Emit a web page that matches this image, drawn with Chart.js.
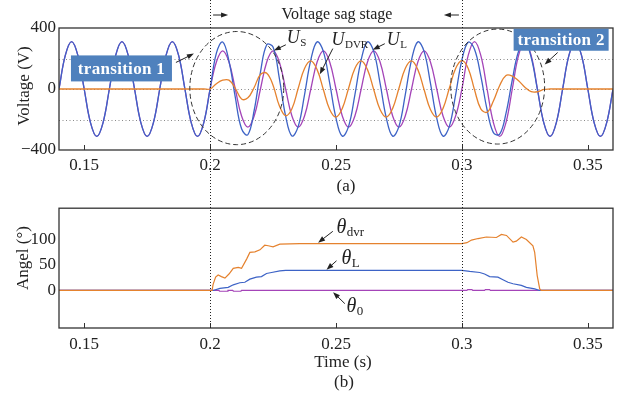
<!DOCTYPE html>
<html>
<head>
<meta charset="utf-8">
<script src="https://cdn.jsdelivr.net/npm/chart.js@4.4.1/dist/chart.umd.min.js"></script>
<style>
  html, body { margin: 0; padding: 0; background: #fff; }
  #wrap { position: relative; width: 622px; height: 399px; overflow: hidden; }
  canvas { position: absolute; left: 0; }
  #top { top: 0; }
  #bot { top: 195px; }
</style>
</head>
<body>
<div id="wrap">
  <canvas id="top" width="622" height="195"></canvas>
  <canvas id="bot" width="622" height="204"></canvas>
</div>
<script>
// ---- axis ticks ----
const xTicks = [0.15, 0.2, 0.25, 0.3, 0.35];
const xTickLabels = ["0.15", "0.2", "0.25", "0.3", "0.35"];
const vTicks = [-400, 0, 400];
const vTickLabels = ["\u2212400", "0", "400"];
const vGrid = [-200, 0, 200];
const aTicks = [0, 50, 100];
const aTickLabels = ["0", "50", "100"];
const stageBounds = [0.2, 0.3];

// ---- (a) voltages, sampled every 2.5 ms ----
const tTop = [0.14, 0.1425, 0.145, 0.1475, 0.15, 0.1525, 0.155, 0.1575, 0.16, 0.1625, 0.165, 0.1675,
  0.17, 0.1725, 0.175, 0.1775, 0.18, 0.1825, 0.185, 0.1875, 0.19, 0.1925, 0.195, 0.1975,
  0.2, 0.2025, 0.205, 0.2075, 0.21, 0.2125, 0.215, 0.2175, 0.22, 0.2225, 0.225, 0.2275,
  0.23, 0.2325, 0.235, 0.2375, 0.24, 0.2425, 0.245, 0.2475, 0.25, 0.2525, 0.255, 0.2575,
  0.26, 0.2625, 0.265, 0.2675, 0.27, 0.2725, 0.275, 0.2775, 0.28, 0.2825, 0.285, 0.2875,
  0.29, 0.2925, 0.295, 0.2975, 0.3, 0.3025, 0.305, 0.3075, 0.31, 0.3125, 0.315, 0.3175,
  0.32, 0.3225, 0.325, 0.3275, 0.33, 0.3325, 0.335, 0.3375, 0.34, 0.3425, 0.345, 0.3475,
  0.35, 0.3525, 0.355, 0.3575, 0.36];

const uS = [0, 220, 311, 220, 0, -220, -311, -220, 0, 220, 311, 220, 0, -220, -311, -220,
  0, 220, 311, 220, 0, -220, -311, -220,
  0, 177, 250, 177, 0, -177, -250, -177, 0, 177, 250, 177, 0, -177, -250, -177,
  0, 177, 250, 177, 0, -177, -250, -177, 0, 177, 250, 177, 0, -177, -250, -177,
  0, 177, 250, 177, 0, -177, -250, -177,
  0, 220, 311, 220, 0, -220, -311, -220, 0, 220, 311, 220, 0, -220, -311, -220,
  0, 220, 311, 220, 0, -220, -311, -220, 0];

const uL = [0, 220, 311, 220, 0, -220, -311, -220, 0, 220, 311, 220, 0, -220, -311, -220,
  0, 220, 311, 220, 0, -220, -311, -220,
  0, 235, 308, 183, -54, -261, -300, -141, 111, 290, 275, 70, -178, -308, -245, -38,
  191, 309, 245, 38, -191, -309, -245, -38, 191, 309, 245, 38, -191, -309, -245, -38,
  191, 309, 245, 38, -191, -309, -245, -38,
  191, 307, 261, 86, -136, -286, -296, -160, 59, 248, 310, 208, -5, -220, -311, -220,
  0, 220, 311, 220, 0, -220, -311, -220, 0];

const uDVR = [0, 0, 0, 0, 0, 0, 0, 0, 0, 0, 0, 0, 0, 0, 0, 0, 0, 0, 0, 0, 0, 0, 0, 0,
  0, 35, 58, 58, 5, -65, -58, 10, 95, 104, 25, -110, -175, -130, 5, 134,
  184, 127, -5, -134, -184, -127, 5, 134, 184, 127, -5, -134, -184, -127, 5, 134,
  184, 127, -5, -134, -184, -127, 5, 134,
  186, 135, -5, -130, -152, -79, 23, 89, 85, 54, 12, -17, -18, -3,
  0, 0, 0, 0, 0, 0, 0, 0, 0, 0, 0];

// ---- (b) angles ----
const tDvr = [0.14, 0.2008, 0.2012, 0.2022, 0.2032, 0.2045, 0.2059, 0.2075, 0.2092, 0.2112, 0.2125,
  0.2145, 0.2158, 0.2178, 0.2198, 0.2217, 0.2231, 0.225, 0.2277, 0.2356, 0.3, 0.302, 0.3038,
  0.3064, 0.3097, 0.3137, 0.3157, 0.3177, 0.3203, 0.3216, 0.3236, 0.3256, 0.3282, 0.3289,
  0.3299, 0.3309, 0.3315, 0.36];
const thDvr = [0, 0, 12, 26, 30, 27, 24, 32, 43, 45, 43, 61, 74, 75, 79, 88, 87, 85, 90, 91, 91,
  93, 98, 101, 104, 103, 109, 107, 94, 96, 104, 99, 87, 74, 29, 3, 0, 0];

const tL = [0.14, 0.2012, 0.2039, 0.2072, 0.2092, 0.2118, 0.2138, 0.2158, 0.2184, 0.2204, 0.2224,
  0.2244, 0.2277, 0.23, 0.3, 0.3031, 0.3071, 0.309, 0.311, 0.3143, 0.3163, 0.3183, 0.3203,
  0.3236, 0.3256, 0.3289, 0.3309, 0.36];
const thL = [0, 0, 4, 6, 11, 15, 16, 22, 26, 27, 33, 35, 38, 39, 39, 37, 35, 32, 27, 26, 21, 16,
  13, 10, 6, 3, 0, 0];

const t0 = [0.14, 0.2035, 0.2038, 0.2068, 0.2071, 0.209, 0.2093, 0.2122, 0.2125, 0.302, 0.3023,
  0.304, 0.3043, 0.309, 0.3093, 0.311, 0.3113, 0.36];
const th0 = [0, 0, -1.5, -1.5, 0, 0, -1.5, -1.5, 0, 0, 1.5, 1.5, 0, 0, 1.5, 1.5, 0, 0];

const SERIF = '"Liberation Serif", "DejaVu Serif", serif';
const BLUE = "#3d63c6", PURPLE = "#a444b8", ORANGE = "#e5822e", INK = "#222";

const pts = (ts, vs) => vs.map((v, i) => ({ x: ts[i], y: v }));

// ---- drawing helpers ----
function arrow(ctx, x1, y1, x2, y2) {
  const a = Math.atan2(y2 - y1, x2 - x1), len = 7, wid = 2.6;
  ctx.beginPath();
  ctx.moveTo(x1, y1);
  ctx.lineTo(x2 - Math.cos(a) * len * 0.7, y2 - Math.sin(a) * len * 0.7);
  ctx.stroke();
  ctx.beginPath();
  ctx.moveTo(x2, y2);
  ctx.lineTo(x2 - len * Math.cos(a) + wid * Math.sin(a), y2 - len * Math.sin(a) - wid * Math.cos(a));
  ctx.lineTo(x2 - len * Math.cos(a) - wid * Math.sin(a), y2 - len * Math.sin(a) + wid * Math.cos(a));
  ctx.closePath();
  ctx.fill();
}

function subLabel(ctx, x, y, main, sub, size, subSize) {
  ctx.textAlign = "left";
  ctx.textBaseline = "alphabetic";
  ctx.font = `italic ${size}px ${SERIF}`;
  ctx.fillText(main, x, y);
  const w = ctx.measureText(main).width;
  ctx.font = `${subSize}px ${SERIF}`;
  ctx.fillText(sub, x + w + 0.5, y + 3);
}

function frame(ctx, a) {
  ctx.setLineDash([]);
  ctx.strokeStyle = "#333";
  ctx.lineWidth = 1.3;
  ctx.strokeRect(a.left, a.top, a.right - a.left, a.bottom - a.top);
}

function insideTicks(ctx, a, xs) {
  ctx.setLineDash([]);
  ctx.strokeStyle = "#333";
  ctx.lineWidth = 1;
  xs.forEach(px => {
    const xx = Math.round(px) + 0.5;
    ctx.beginPath(); ctx.moveTo(xx, a.bottom); ctx.lineTo(xx, a.bottom - 5); ctx.stroke();
  });
}

function stageLines(chart, yEnd) {
  const { ctx, scales: { x } } = chart;
  ctx.setLineDash([1, 2]);
  ctx.strokeStyle = INK;
  ctx.lineWidth = 1;
  stageBounds.forEach(t => {
    const xx = Math.round(x.getPixelForValue(t)) + 0.5;
    ctx.beginPath(); ctx.moveTo(xx, 0); ctx.lineTo(xx, yEnd); ctx.stroke();
  });
  ctx.setLineDash([]);
}

function vTitle(ctx, text, cx, cy) {
  ctx.save();
  ctx.translate(cx, cy);
  ctx.rotate(-Math.PI / 2);
  ctx.font = `17px ${SERIF}`;
  ctx.fillStyle = INK;
  ctx.textAlign = "center";
  ctx.textBaseline = "middle";
  ctx.fillText(text, 0, 0);
  ctx.restore();
}

// ---- annotation placements (data coordinates) ----
const topLabels = [
  { sub: "S",   t: 0.2304, v: 303, from: [0.23008, 290], to: [0.22532, 252] },
  { sub: "DVR", t: 0.2482, v: 290, from: [0.24873, 265], to: [0.24357, 97] },
  { sub: "L",   t: 0.2702, v: 290, from: [0.26937, 297], to: [0.2646, 258] }
];
const transitions = [
  { text: "transition 1", t: 0.1648, v: 135, w: 101, h: 26, from: [0.18643, 174], to: [0.19357, 232] },
  { text: "transition 2", t: 0.3394, v: 323, w: 95, h: 22, from: [0.33802, 239], to: [0.33286, 161] }
];
const rings = [
  { t: 0.2106, v: 6, dt: 0.01865, dv: 371 },
  { t: 0.3142, v: 16, dt: 0.01865, dv: 377 }
];
const botLabels = [
  { sub: "dvr", t: 0.2502, v: 111.5, from: [0.24873, 115], to: [0.2429, 93] },
  { sub: "L",   t: 0.25218, v: 52, from: [0.2502, 57.7], to: [0.24623, 40.4] },
  { sub: "0",   t: 0.25417, v: -42.3, from: [0.2535, -25.6], to: [0.24885, -3.3] }
];

const topDecor = {
  id: "topDecor",
  beforeDatasetsDraw(chart) {
    const { ctx, chartArea: a, scales: { y } } = chart;
    ctx.save();
    ctx.strokeStyle = "#8a8a8a";
    ctx.lineWidth = 1;
    ctx.setLineDash([1, 2.5]);
    vGrid.forEach(v => {
      const yy = Math.round(y.getPixelForValue(v)) + 0.5;
      ctx.beginPath(); ctx.moveTo(a.left, yy); ctx.lineTo(a.right, yy); ctx.stroke();
    });
    ctx.restore();
  },
  afterDraw(chart) {
    const { ctx, chartArea: a, scales: { x, y } } = chart;
    const X = t => x.getPixelForValue(t), Y = v => y.getPixelForValue(v);
    ctx.save();
    frame(ctx, a);
    insideTicks(ctx, a, xTicks.map(X));
    stageLines(chart, chart.height);

    ctx.fillStyle = INK; ctx.strokeStyle = INK; ctx.lineWidth = 1;
    const x0 = X(stageBounds[0]), x1 = X(stageBounds[1]);
    ctx.font = `16px ${SERIF}`;
    ctx.textAlign = "center"; ctx.textBaseline = "middle";
    ctx.fillText("Voltage sag stage", (x0 + x1) / 2 + 1, 15);
    arrow(ctx, x0 + 3, 15, x0 + 18, 15);
    arrow(ctx, x1 - 3, 15, x1 - 18, 15);

    ctx.strokeStyle = "#333";
    ctx.setLineDash([5, 3]);
    rings.forEach(r => {
      ctx.beginPath();
      ctx.ellipse(X(r.t), Y(r.v), X(r.t + r.dt) - X(r.t), Y(r.v) - Y(r.v + r.dv), 0, 0, Math.PI * 2);
      ctx.stroke();
    });
    ctx.setLineDash([]);

    ctx.strokeStyle = INK;
    topLabels.forEach(l => {
      subLabel(ctx, X(l.t), Y(l.v), "U", l.sub, 18, 11);
      arrow(ctx, X(l.from[0]), Y(l.from[1]), X(l.to[0]), Y(l.to[1]));
    });

    transitions.forEach(b => {
      const cx = X(b.t), cy = Y(b.v);
      ctx.fillStyle = "#4f81bd";
      ctx.fillRect(cx - b.w / 2, cy - b.h / 2, b.w, b.h);
      ctx.fillStyle = "#fff";
      ctx.font = `bold 17px ${SERIF}`;
      ctx.letterSpacing = "0.3px";
      ctx.textAlign = "center"; ctx.textBaseline = "middle";
      ctx.fillText(b.text, cx, cy + 1);
      ctx.letterSpacing = "0px";
      ctx.fillStyle = INK;
      arrow(ctx, X(b.from[0]), Y(b.from[1]), X(b.to[0]), Y(b.to[1]));
    });

    vTitle(ctx, "Voltage (V)", 25, 86);
    ctx.font = `17px ${SERIF}`;
    ctx.fillStyle = INK;
    ctx.textAlign = "center"; ctx.textBaseline = "middle";
    ctx.fillText("(a)", (a.left + a.right) / 2 + 10, 187);
    ctx.restore();
  }
};

const botDecor = {
  id: "botDecor",
  afterDraw(chart) {
    const { ctx, chartArea: a, scales: { x, y } } = chart;
    const X = t => x.getPixelForValue(t), Y = v => y.getPixelForValue(v);
    ctx.save();
    frame(ctx, a);
    insideTicks(ctx, a, xTicks.map(X));
    stageLines(chart, a.bottom);

    ctx.fillStyle = INK; ctx.strokeStyle = INK; ctx.lineWidth = 1;
    botLabels.forEach(l => {
      subLabel(ctx, X(l.t), Y(l.v), "\u03b8", l.sub, 20, 13);
      arrow(ctx, X(l.from[0]), Y(l.from[1]), X(l.to[0]), Y(l.to[1]));
    });

    vTitle(ctx, "Angel (\u00b0)", 24, 63);
    ctx.font = `17px ${SERIF}`;
    ctx.fillStyle = INK;
    ctx.textAlign = "center"; ctx.textBaseline = "middle";
    ctx.fillText("Time (s)", (a.left + a.right) / 2 + 7, 168);
    ctx.fillText("(b)", (a.left + a.right) / 2 + 8, 188);
    ctx.restore();
  }
};

function xScale(height, pad) {
  return {
    type: "linear", min: 0.14, max: 0.36,
    grid: { display: false, drawTicks: false }, border: { display: false },
    afterBuildTicks: s => { s.ticks = xTicks.map(v => ({ value: v })); },
    afterFit: s => { s.height = height; },
    ticks: {
      autoSkip: false, maxRotation: 0, padding: pad, color: INK,
      font: { family: SERIF, size: 17 },
      callback: (v, i) => xTickLabels[i]
    }
  };
}

function yScale(min, max, ticks, labels) {
  return {
    min, max,
    grid: { display: false, drawTicks: false }, border: { display: false },
    afterBuildTicks: s => { s.ticks = ticks.map(v => ({ value: v })); },
    afterFit: s => { s.width = 59; },
    ticks: {
      autoSkip: false, padding: 3, color: INK,
      font: { family: SERIF, size: 17 },
      callback: (v, i) => labels[i]
    }
  };
}

const common = {
  responsive: false, animation: false, devicePixelRatio: 1,
  plugins: { legend: { display: false }, tooltip: { enabled: false } },
  elements: { point: { radius: 0 } }
};

// Chart.js paints dataset 0 last, so list the top-most line first.
new Chart(document.getElementById("top"), {
  type: "line",
  data: {
    datasets: [
      { data: pts(tTop, uDVR), borderColor: ORANGE, borderWidth: 1.3, tension: 0.4 },
      { data: pts(tTop, uL),   borderColor: BLUE,   borderWidth: 1.3, tension: 0.4 },
      { data: pts(tTop, uS),   borderColor: PURPLE, borderWidth: 1.3, tension: 0.4 }
    ]
  },
  options: {
    ...common,
    layout: { padding: { top: 28, right: 9, left: 0, bottom: 0 } },
    scales: { x: xScale(45, 5), y: yScale(-400, 400, vTicks, vTickLabels) }
  },
  plugins: [topDecor]
});

new Chart(document.getElementById("bot"), {
  type: "line",
  data: {
    datasets: [
      { data: pts(tDvr, thDvr), borderColor: ORANGE, borderWidth: 1.2, tension: 0 },
      { data: pts(tL, thL),     borderColor: BLUE,   borderWidth: 1.2, tension: 0 },
      { data: pts(t0, th0),     borderColor: PURPLE, borderWidth: 1.2, tension: 0 }
    ]
  },
  options: {
    ...common,
    layout: { padding: { top: 12, right: 9, left: 0, bottom: 0 } },
    scales: { x: xScale(71, 6), y: yScale(-73, 160, aTicks, aTickLabels) }
  },
  plugins: [botDecor]
});
</script>
</body>
</html>
